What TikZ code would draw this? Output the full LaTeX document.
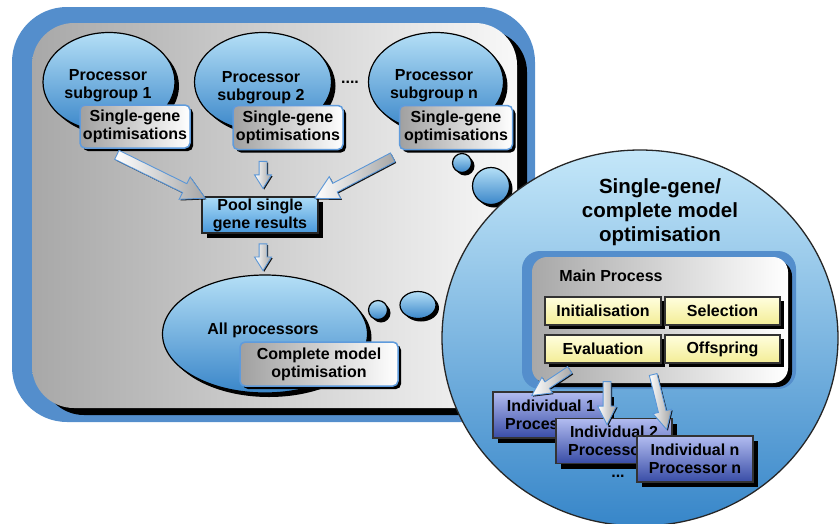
\documentclass[tikz,border=0pt]{standalone}
\usepackage{fontspec}
\setmainfont{Liberation Sans}
\usetikzlibrary{shapes.geometric,shapes.arrows,shadows,calc}

\definecolor{frameblue}{RGB}{84,142,204}
\definecolor{ellTop}{RGB}{180,223,246}
\definecolor{ellMid}{RGB}{100,175,228}
\definecolor{ellBot}{RGB}{58,134,201}
\definecolor{boxblue}{RGB}{95,155,220}
\definecolor{boxgray}{RGB}{160,160,160}
\definecolor{panelL}{RGB}{168,168,168}
\definecolor{panelR}{RGB}{248,248,248}
\definecolor{circTop}{RGB}{196,231,249}
\definecolor{circMid}{RGB}{105,180,232}
\definecolor{circBot}{RGB}{55,134,201}
\definecolor{poolTop}{RGB}{172,220,247}
\definecolor{poolBot}{RGB}{72,152,219}
\definecolor{yelTop}{RGB}{255,254,222}
\definecolor{yelBot}{RGB}{243,237,150}
\definecolor{indTop}{RGB}{178,188,240}
\definecolor{indBot}{RGB}{56,76,166}
\definecolor{arrowline}{RGB}{90,150,215}

\tikzset{
  base/.style={font=\fontsize{16}{18}\selectfont\bfseries, align=center, inner sep=0pt},
  shad/.style={drop shadow={shadow xshift=#1, shadow yshift=-#1, opacity=1, fill=black}},
  ell/.style={ellipse, draw=black, line width=1.2pt, inner sep=0pt,
    top color=ellTop, middle color=ellMid, bottom color=ellBot, shad=4pt},
  bubble/.style={ellipse, draw=black, line width=1.2pt, inner sep=0pt,
    top color=ellTop, middle color=ellMid, bottom color=ellBot, shad=3pt},
  sgbox/.style={base, rectangle, rounded corners=5pt, draw=boxblue, line width=1.5pt,
    left color=boxgray, right color=white, shad=3pt},
  poolbox/.style={base, rectangle, draw=black!85, line width=1.5pt,
    top color=poolTop, bottom color=poolBot, shad=5pt},
  ybox/.style={base, rectangle, draw=black!80, line width=1.5pt,
    top color=yelTop, bottom color=yelBot, shad=4pt},
  ibox/.style={base, rectangle, draw=black!80, line width=1.5pt,
    top color=indTop, bottom color=indBot, shad=5pt},
  fat/.style={single arrow, draw=arrowline, line width=0.9pt, inner xsep=0pt,
    left color=white, right color=black!35,
    drop shadow={shadow xshift=1.2pt, shadow yshift=-1.2pt, opacity=0.9, fill=black}},
  bigfat/.style={fat, inner ysep=4.5pt, single arrow head extend=7.5pt, single arrow tip angle=57},
  smallfat/.style={fat, inner ysep=3.5pt, single arrow head extend=4.5pt, single arrow tip angle=64},
  midfat/.style={fat, inner ysep=3.5pt, single arrow head extend=5.5pt, single arrow tip angle=54},
  titletext/.style={font=\fontsize{20.5}{24}\selectfont\bfseries, align=center, inner sep=0pt},
  plain/.style={base}
}

% block arrow between two named points
\newcommand\blockarrow[3]{%
  \path let \p1=($(#3)-(#2)$), \n1={atan2(\y1,\x1)}, \n2={veclen(\x1,\y1)} in
    node[#1, minimum height=\n2, rotate=\n1] at ($(#2)!0.5!(#3)$) {};}

\begin{document}
\begin{tikzpicture}[x=1pt,y=-1pt]
\useasboundingbox (0,0) rectangle (840,523);

% outer frame with shaded panel
\node[rectangle, fill=frameblue, rounded corners=55pt, minimum width=523pt,
      minimum height=415pt, inner sep=0pt] (frame) at (273.5,214.5) {};
\node[rectangle, rounded corners=42pt, left color=panelL, right color=panelR,
      minimum width=485pt, minimum height=385pt, inner sep=0pt,
      drop shadow={shadow xshift=10pt, shadow yshift=-7pt, opacity=1, fill=black}]
      (panel) at (274.5,215.5) {};

% processor subgroups
\node[ell, minimum width=132pt, minimum height=99pt] (sg1) at (109,82) {};
\node[plain] (sg1t) at (108,86) {Processor\\subgroup 1};
\node[ell, minimum width=137pt, minimum height=99pt] (sg2) at (263,82) {};
\node[plain] (sg2t) at (261,88) {Processor\\subgroup 2};
\node[ell, minimum width=135pt, minimum height=99pt] (sgn) at (436,82) {};
\node[plain] (sgnt) at (434,86) {Processor\\subgroup n};
\node[plain] (dots1) at (350,82) {....};

\node[sgbox, minimum width=110pt, minimum height=43pt] (sgb1) at (135,126.5) {Single-gene\\optimisations};
\node[sgbox, minimum width=110pt, minimum height=44pt] (sgb2) at (288,127.5) {Single-gene\\optimisations};
\node[sgbox, minimum width=113pt, minimum height=44pt] (sgbn) at (456,127.5) {Single-gene\\optimisations};

% thought bubbles
\node[bubble, minimum width=19pt, minimum height=19pt] (bb1) at (462,163) {};
\node[bubble, minimum width=37pt, minimum height=37pt] (bb2) at (491,186) {};

% pooling
\node[poolbox, minimum width=116pt, minimum height=36pt] (pool) at (260,215) {Pool single\\gene results};

\coordinate (t1) at ($(sgb1.south west)!0.3!(sgb1.south east)+(0,4)$);
\coordinate (t2a) at ($(sgb2.south)+(-25,8)$);
\coordinate (t2b) at ($(pool.north)+(3,-11)$);
\coordinate (tn) at ($(sgbn.south west)+(-2,5)$);
\blockarrow{bigfat}{t1}{pool.north west}
\blockarrow{smallfat}{t2a}{t2b}
\blockarrow{bigfat}{tn}{pool.north east}

% all processors
\node[ell, minimum width=205pt, minimum height=118pt] (all) at (265,334) {};
\node[plain] (allt) at (263,330) {All processors};
\coordinate (p1) at ($(pool.south)+(3,7)$);
\coordinate (p2) at ($(all.north)+(-2,-7)$);
\blockarrow{smallfat}{p1}{p2}
\node[sgbox, minimum width=158pt, minimum height=44pt] (cmo) at (319,364) {Complete model\\optimisation};
\node[bubble, minimum width=19pt, minimum height=19pt] (bb3) at (378,310) {};
\node[bubble, minimum width=36pt, minimum height=27pt] (bb4) at (418,305) {};

% single-gene / complete model optimisation
\node[ellipse, draw=black!85, line width=1.3pt, top color=circTop, middle color=circMid,
      bottom color=circBot, minimum width=396pt, minimum height=376pt, inner sep=0pt]
      (opt) at (640,338) {};
\node[titletext] (ttl) at (660,212) {Single-gene/\\complete model\\optimisation};

\node[rectangle, fill=frameblue, rounded corners=18pt, minimum width=274pt,
      minimum height=138pt, inner sep=0pt] (mainback) at (659,320) {};
\node[rectangle, rounded corners=15pt, left color=panelL, right color=white,
      minimum width=256pt, minimum height=126pt, inner sep=0pt, shad=4pt]
      (main) at (660,320) {};
\node[plain] (mainlbl) at (611,276) {Main Process};

\node[ybox, minimum width=116pt, minimum height=28pt] (init) at (603,311) {Initialisation};
\node[ybox, minimum width=115pt, minimum height=28pt] (sel) at (722.5,311) {Selection};
\node[ybox, minimum width=116pt, minimum height=28pt] (eval) at (603,349) {Evaluation};
\node[ybox, minimum width=115pt, minimum height=28pt] (off) at (722.5,349) {Offspring};

\node[ibox, minimum width=116pt, minimum height=46pt] (ind1) at (551,415) {Individual 1\\Processor 1};
\node[ibox, minimum width=116pt, minimum height=45pt] (ind2) at (614,441) {Individual 2\\Processor 2};
\node[ibox, minimum width=116pt, minimum height=46pt] (indn) at (695,459) {Individual n\\Processor n};
\node[plain] (dots2) at (618,476) {...};

\coordinate (e1a) at ($(eval.south)+(-30,4)$);
\coordinate (e1b) at ($(ind1.north)+(-16,2)$);
\coordinate (e2a) at ($(eval.south)+(4,14)$);
\coordinate (e2b) at ($(ind2.north)+(-7,3)$);
\coordinate (e3a) at ($(off.south west)+(-12,7)$);
\coordinate (e3b) at ($(ind2.north east)+(-7,8)$);
\blockarrow{midfat}{e1a}{e1b}
\blockarrow{midfat}{e2a}{e2b}
\blockarrow{midfat}{e3a}{e3b}
\end{tikzpicture}
\end{document}
